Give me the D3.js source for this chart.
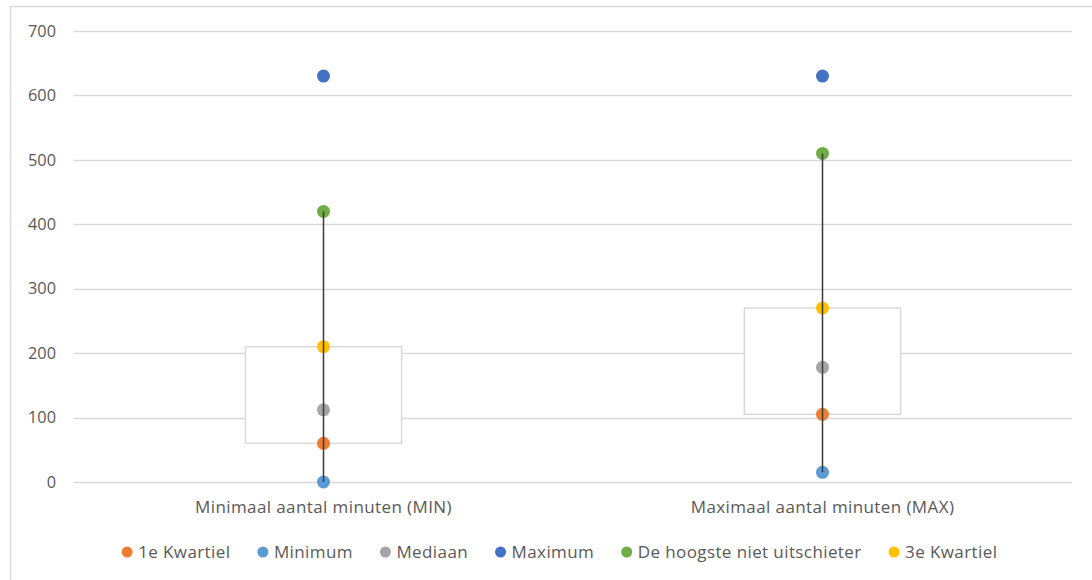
<!DOCTYPE html>
<html>
<head>
<meta charset="utf-8">
<script src="https://cdn.jsdelivr.net/npm/d3@7"></script>
<style>
  html, body { margin: 0; padding: 0; background: #fff; }
  svg { display: block; }
  text { font-family: "Open Sans", Lato, sans-serif; fill: #595959; }
</style>
</head>
<body>
<svg id="chart" width="1092" height="580"></svg>
<script>
// Categories on the x axis
const categories = ["Minimaal aantal minuten (MIN)", "Maximaal aantal minuten (MAX)"];

// Series (one value per category)
const seriesNames = ["1e Kwartiel", "Minimum", "Mediaan", "Maximum", "De hoogste niet uitschieter", "3e Kwartiel"];
const q1Values      = [60, 105];
const minValues     = [0, 15];
const medianValues  = [112, 178];
const maxValues     = [630, 630];
const upperValues   = [420, 510];
const q3Values      = [210, 270];

const seriesColors = ["#ED7D31", "#5B9BD5", "#A5A5A5", "#4472C4", "#70AD47", "#FFC000"];
const yTicks = [0, 100, 200, 300, 400, 500, 600, 700];

const seriesValues = [q1Values, minValues, medianValues, maxValues, upperValues, q3Values];

const FONT = "'Open Sans', Lato, sans-serif";
const FS_TICK = 16.3;
const FS_TEXT = 17;
const LS_TEXT = "0.4px";

const svg = d3.select("#chart");
const W = 1092, H = 580;
const plot = { left: 74, right: 1072, top: 31, bottom: 482 };

// Outer chart frame
svg.append("rect")
  .attr("x", 10.5).attr("y", 6.5)
  .attr("width", W).attr("height", H)
  .attr("fill", "none").attr("stroke", "#D9D9D9").attr("stroke-width", 1.5);

const x = d3.scaleBand().domain(categories).range([plot.left, plot.right]);
const y = d3.scaleLinear().domain([0, 700]).range([plot.bottom, plot.top]);

// Horizontal gridlines
svg.append("g").selectAll("line").data(yTicks).join("line")
  .attr("x1", plot.left).attr("x2", plot.right)
  .attr("y1", d => Math.round(y(d)) + 0.5).attr("y2", d => Math.round(y(d)) + 0.5)
  .attr("stroke", "#D9D9D9").attr("stroke-width", 1.5);

// Y axis tick labels
const yAxis = d3.axisLeft(y).tickValues(yTicks).tickSize(0).tickPadding(0);
const yg = svg.append("g").attr("transform", `translate(${plot.left - 18},0)`).call(yAxis);
yg.select(".domain").remove();
yg.selectAll("text").attr("font-size", FS_TICK).attr("font-family", FONT).attr("fill", "#595959");

// X axis category labels
const xAxis = d3.axisBottom(x).tickSize(0).tickPadding(0);
const xg = svg.append("g").attr("transform", `translate(0,${plot.bottom + 19})`).call(xAxis);
xg.select(".domain").remove();
xg.selectAll("text").attr("font-size", FS_TEXT).attr("letter-spacing", LS_TEXT)
  .attr("font-family", FONT).attr("fill", "#595959");

// Boxes from first to third quartile
const boxW = x.bandwidth() * 0.313;
svg.append("g").selectAll("rect").data(categories).join("rect")
  .attr("x", d => x(d) + x.bandwidth() / 2 - boxW / 2)
  .attr("y", (d, i) => y(q3Values[i]))
  .attr("width", boxW)
  .attr("height", (d, i) => y(q1Values[i]) - y(q3Values[i]))
  .attr("fill", "#fff").attr("stroke", "#D9D9D9").attr("stroke-width", 1.5);

// Series points
const cx = d => x(d) + x.bandwidth() / 2;
seriesValues.forEach((vals, s) => {
  svg.append("g").selectAll("circle").data(categories).join("circle")
    .attr("cx", d => cx(d))
    .attr("cy", (d, i) => y(vals[i]))
    .attr("r", 6.5)
    .attr("fill", seriesColors[s]);
});

// Whiskers: minimum to highest non-outlier
svg.append("g").selectAll("line").data(categories).join("line")
  .attr("x1", d => cx(d)).attr("x2", d => cx(d))
  .attr("y1", (d, i) => y(minValues[i]))
  .attr("y2", (d, i) => y(upperValues[i]))
  .attr("stroke", "#3a3a3a").attr("stroke-width", 1.5);

// Legend
const legend = svg.append("g");
const items = legend.selectAll("g").data(seriesNames).join("g");
items.append("circle").attr("r", 5.5).attr("cy", 0).attr("fill", (d, i) => seriesColors[i]);
items.append("text").attr("x", 11).attr("dy", "0.35em")
  .attr("font-size", FS_TEXT).attr("letter-spacing", LS_TEXT).attr("font-family", FONT)
  .text(d => d);
let offset = 0;
const gap = 27;
items.each(function () {
  const w = this.getBBox().width;
  d3.select(this).attr("transform", `translate(${offset},0)`);
  offset += w + gap;
});
const total = offset - gap;
legend.attr("transform", `translate(${565 - total / 2},552)`);
</script>
</body>
</html>
